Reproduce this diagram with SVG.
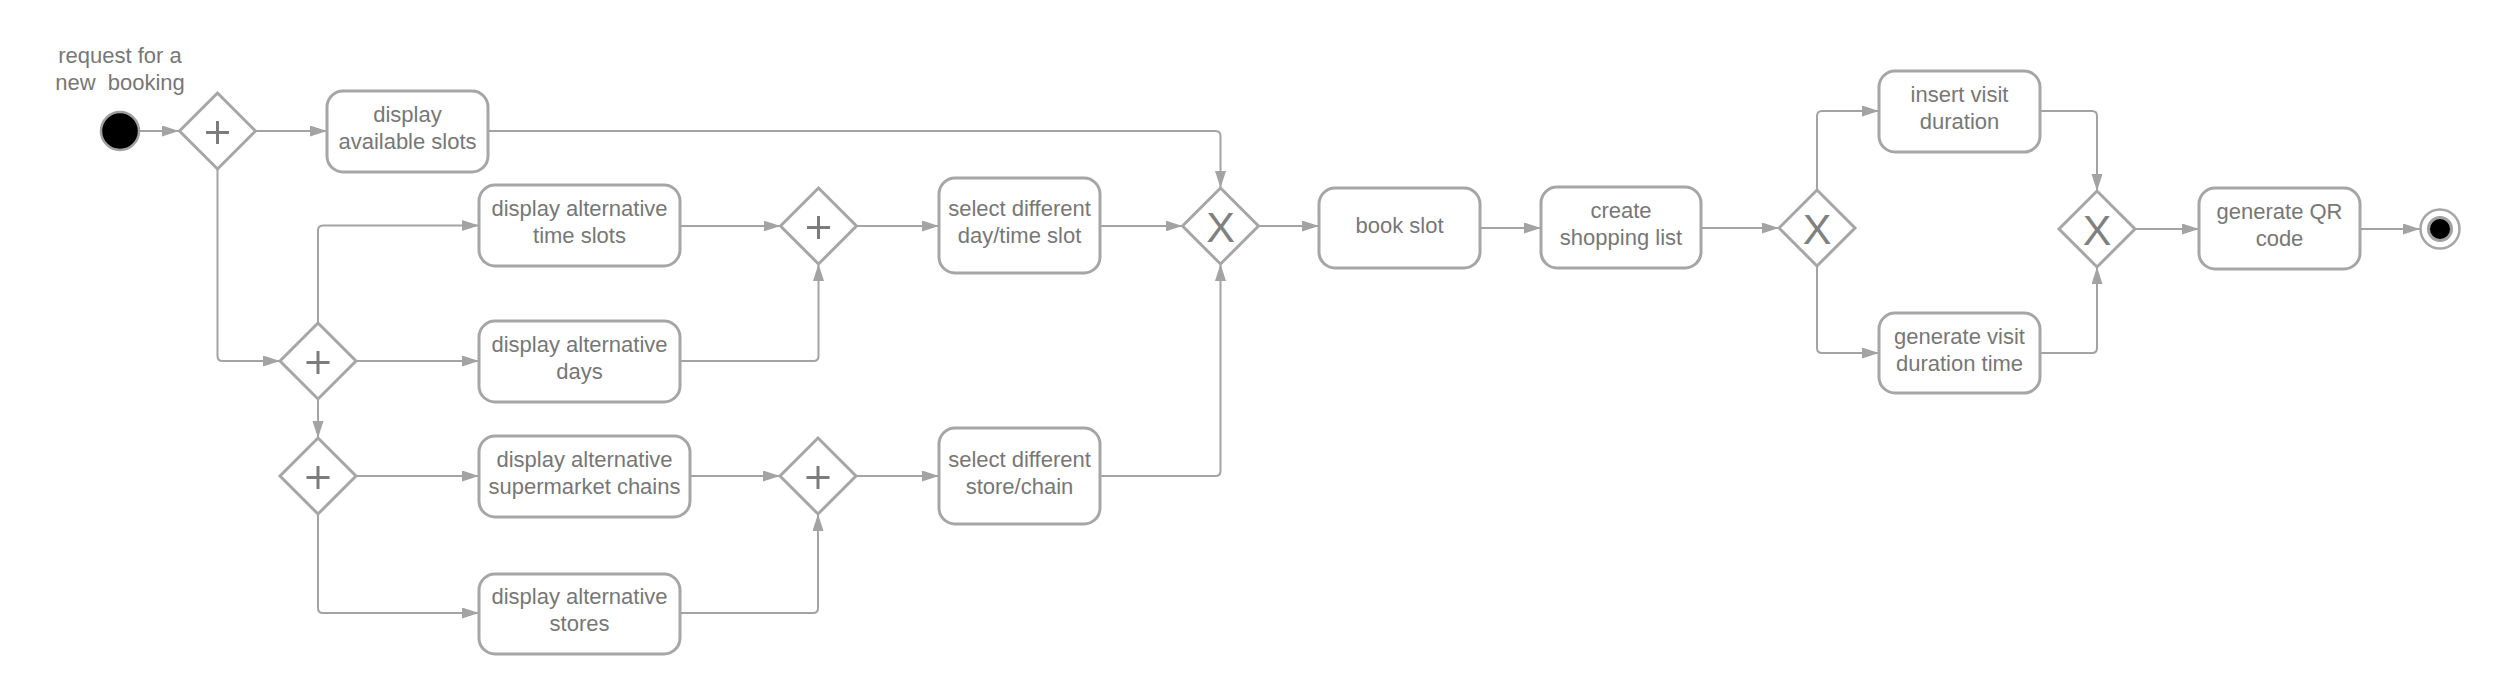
<svg xmlns="http://www.w3.org/2000/svg" width="2500" height="694" viewBox="0 0 2500 694">
<style>
.box{fill:#fff;stroke:#a6a6a6;stroke-width:3}
.gw{fill:#fff;stroke:#a6a6a6;stroke-width:3}
.plus{stroke:#7c7c7c;stroke-width:3;fill:none}
.t{font-family:"Liberation Sans",Arial,sans-serif;font-size:22px;fill:#777;text-anchor:middle}
.x{font-family:"Liberation Sans",Arial,sans-serif;font-size:43px;fill:#808080;text-anchor:middle}
.c{fill:none;stroke:#a3a3a3;stroke-width:2;marker-end:url(#ah)}
</style>
<defs>
<marker id="ah" markerUnits="userSpaceOnUse" markerWidth="18" markerHeight="12" refX="17" refY="5.5" orient="auto">
<path d="M0,0 L17,5.5 L0,11 Z" fill="#a3a3a3"/>
</marker>
</defs>
<rect width="2500" height="694" fill="#fff"/>
<g id="connectors">
<path class="c" d="M140,131 H179"/>
<path class="c" d="M255.5,131 H327"/>
<path class="c" d="M488,131 H1215.5 Q1220.5,131 1220.5,136 V188"/>
<path class="c" d="M217.5,169 V356 Q217.5,361 222.5,361 H280"/>
<path class="c" d="M318,323 V230.5 Q318,225.5 323,225.5 H479"/>
<path class="c" d="M356,361 H479"/>
<path class="c" d="M318,399 V438"/>
<path class="c" d="M680,226 H780.5"/>
<path class="c" d="M680,361 H813.5 Q818.5,361 818.5,356 V264"/>
<path class="c" d="M856.5,226 H939"/>
<path class="c" d="M1100,226 H1182.5"/>
<path class="c" d="M1258.5,226 H1319"/>
<path class="c" d="M1480,228 H1541"/>
<path class="c" d="M1701,228 H1779"/>
<path class="c" d="M1817,190 V116 Q1817,111 1822,111 H1879"/>
<path class="c" d="M1817,266 V348 Q1817,353 1822,353 H1879"/>
<path class="c" d="M2040,111 H2092 Q2097,111 2097,116 V191"/>
<path class="c" d="M2040,353 H2092 Q2097,353 2097,348 V267"/>
<path class="c" d="M2135,229 H2199"/>
<path class="c" d="M2360,229 H2420"/>
<path class="c" d="M356,476 H479"/>
<path class="c" d="M318,514 V608 Q318,613 323,613 H479"/>
<path class="c" d="M690,476 H780"/>
<path class="c" d="M680,613 H813 Q818,613 818,608 V514"/>
<path class="c" d="M856,476 H939"/>
<path class="c" d="M1100,476 H1215.5 Q1220.5,476 1220.5,471 V264"/>
</g>
<g id="start">
<circle cx="120" cy="131" r="19" fill="#000" stroke="#a0a0a0" stroke-width="2.5"/>
<text class="t" x="120" y="63">request for a</text>
<text class="t" x="120" y="90" xml:space="preserve">new  booking</text>
</g>
<g id="g1">
<polygon class="gw" points="217.5,93 255.5,131 217.5,169 179.5,131"/>
<path class="plus" d="M206,132.5 H229 M217.5,121 V144"/>
</g>
<g id="displayAvailableSlots">
<rect class="box" x="327" y="91" width="161" height="81" rx="16"/>
<text class="t" x="407.5" y="122">display</text>
<text class="t" x="407.5" y="149">available slots</text>
</g>
<g id="g2">
<polygon class="gw" points="318,323 356,361 318,399 280,361"/>
<path class="plus" d="M306.5,362.5 H329.5 M318,351 V374"/>
</g>
<g id="altTimeSlots">
<rect class="box" x="479" y="185" width="201" height="81" rx="16"/>
<text class="t" x="579.5" y="216">display alternative</text>
<text class="t" x="579.5" y="243">time slots</text>
</g>
<g id="altDays">
<rect class="box" x="479" y="321" width="201" height="81" rx="16"/>
<text class="t" x="579.5" y="352">display alternative</text>
<text class="t" x="579.5" y="379">days</text>
</g>
<g id="g3">
<polygon class="gw" points="818.5,188 856.5,226 818.5,264 780.5,226"/>
<path class="plus" d="M807,227.5 H830 M818.5,216 V239"/>
</g>
<g id="selectDayTime">
<rect class="box" x="939" y="178" width="161" height="95" rx="16"/>
<text class="t" x="1019.5" y="216">select different</text>
<text class="t" x="1019.5" y="243">day/time slot</text>
</g>
<g id="x1">
<polygon class="gw" points="1220.5,188 1258.5,226 1220.5,264 1182.5,226"/>
<text class="x" x="1220.5" y="241.5">X</text>
</g>
<g id="bookSlot">
<rect class="box" x="1319" y="188" width="161" height="80" rx="16"/>
<text class="t" x="1399.5" y="233">book slot</text>
</g>
<g id="createShoppingList">
<rect class="box" x="1541" y="187" width="160" height="81" rx="16"/>
<text class="t" x="1621" y="218">create</text>
<text class="t" x="1621" y="245">shopping list</text>
</g>
<g id="x2">
<polygon class="gw" points="1817,190 1855,228 1817,266 1779,228"/>
<text class="x" x="1817" y="243.5">X</text>
</g>
<g id="insertVisitDuration">
<rect class="box" x="1879" y="71" width="161" height="81" rx="16"/>
<text class="t" x="1959.5" y="102">insert visit</text>
<text class="t" x="1959.5" y="129">duration</text>
</g>
<g id="generateVisitDuration">
<rect class="box" x="1879" y="313" width="161" height="80" rx="16"/>
<text class="t" x="1959.5" y="343.5">generate visit</text>
<text class="t" x="1959.5" y="370.5">duration time</text>
</g>
<g id="x3">
<polygon class="gw" points="2097,191 2135,229 2097,267 2059,229"/>
<text class="x" x="2097" y="244.5">X</text>
</g>
<g id="generateQR">
<rect class="box" x="2199" y="188" width="161" height="81" rx="16"/>
<text class="t" x="2279.5" y="219">generate QR</text>
<text class="t" x="2279.5" y="246">code</text>
</g>
<g id="end">
<circle cx="2440" cy="229" r="19.5" fill="#fff" stroke="#a6a6a6" stroke-width="2.5"/>
<circle cx="2440" cy="229" r="11.5" fill="#000" stroke="#a0a0a0" stroke-width="3"/>
</g>
<g id="g4">
<polygon class="gw" points="318,438 356,476 318,514 280,476"/>
<path class="plus" d="M306.5,477.5 H329.5 M318,466 V489"/>
</g>
<g id="altChains">
<rect class="box" x="479" y="436" width="211" height="81" rx="16"/>
<text class="t" x="584.5" y="467">display alternative</text>
<text class="t" x="584.5" y="494">supermarket chains</text>
</g>
<g id="altStores">
<rect class="box" x="479" y="574" width="201" height="80" rx="16"/>
<text class="t" x="579.5" y="604">display alternative</text>
<text class="t" x="579.5" y="631">stores</text>
</g>
<g id="g5">
<polygon class="gw" points="818,438 856,476 818,514 780,476"/>
<path class="plus" d="M806.5,477.5 H829.5 M818,466 V489"/>
</g>
<g id="selectStoreChain">
<rect class="box" x="939" y="428" width="161" height="96" rx="16"/>
<text class="t" x="1019.5" y="466.5">select different</text>
<text class="t" x="1019.5" y="493.5">store/chain</text>
</g>
</svg>
